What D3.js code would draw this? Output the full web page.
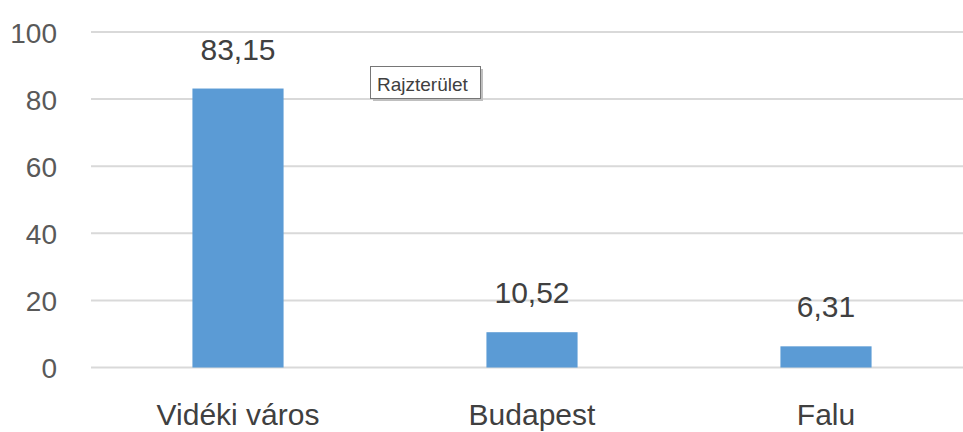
<!DOCTYPE html>
<html><head><meta charset="utf-8">
<script src="https://cdn.jsdelivr.net/npm/d3@7"></script>
<style>body{margin:0;background:#fff}svg{display:block}</style>
</head><body><svg id="c" width="963" height="432"></svg>
<script>
const categories = ["Vidéki város", "Budapest", "Falu"];
const values = [83.15, 10.52, 6.31];
const valueLabels = ["83,15", "10,52", "6,31"];
const yTicks = [0, 20, 40, 60, 80, 100];

const svg = d3.select("#c");
const W = 963, H = 432;
const font = "'Liberation Sans', Arial, sans-serif";
const x = d3.scaleBand().domain(categories).range([91, 973]).paddingInner(0.69).paddingOuter(0.345);
const y = d3.scaleLinear().domain([0, 100]).range([367.5, 32]);

// gridlines
svg.append("g").selectAll("line").data(yTicks).join("line")
  .attr("x1", 91).attr("x2", W)
  .attr("y1", d => y(d)).attr("y2", d => y(d))
  .attr("stroke", "#d9d9d9").attr("stroke-width", 2);

// y axis labels
const yAxis = d3.axisLeft(y).tickValues(yTicks).tickSize(0).tickPadding(0);
const gy = svg.append("g").attr("transform", "translate(57,0)").call(yAxis);
gy.select(".domain").remove();
gy.selectAll("text").attr("font-family", font).attr("font-size", 28).attr("fill", "#595959").attr("dy", "0.36em");

// bars
svg.append("g").selectAll("rect").data(values).join("rect")
  .attr("x", (d, i) => x(categories[i]))
  .attr("width", x.bandwidth())
  .attr("y", d => y(d))
  .attr("height", d => y(0) - y(d))
  .attr("fill", "#5b9bd5");

// value labels
svg.append("g").selectAll("text").data(values).join("text")
  .attr("x", (d, i) => x(categories[i]) + x.bandwidth() / 2)
  .attr("y", d => y(d) - 29)
  .attr("text-anchor", "middle")
  .attr("font-family", font).attr("font-size", 30).attr("fill", "#404040")
  .text((d, i) => valueLabels[i]);

// category labels
const xAxis = d3.axisBottom(x).tickSize(0).tickPadding(0);
const gx = svg.append("g").attr("transform", "translate(0,425)").call(xAxis);
gx.select(".domain").remove();
gx.selectAll("text").attr("font-family", font).attr("font-size", 30).attr("fill", "#404040").attr("dy", 0);

// tooltip "Rajzterület"
const tip = svg.append("g").attr("transform", "translate(370,66)");
tip.append("rect").attr("x", 3).attr("y", 3).attr("width", 110).attr("height", 32).attr("fill", "#bfbfbf");
tip.append("rect").attr("x", 0.5).attr("y", 0.5).attr("width", 110).attr("height", 32)
  .attr("fill", "#fff").attr("stroke", "#767676").attr("stroke-width", 1);
tip.append("text").attr("x", 7).attr("y", 25)
  .attr("font-family", font).attr("font-size", 19).attr("fill", "#404040").text("Rajzterület");
</script></body></html>
